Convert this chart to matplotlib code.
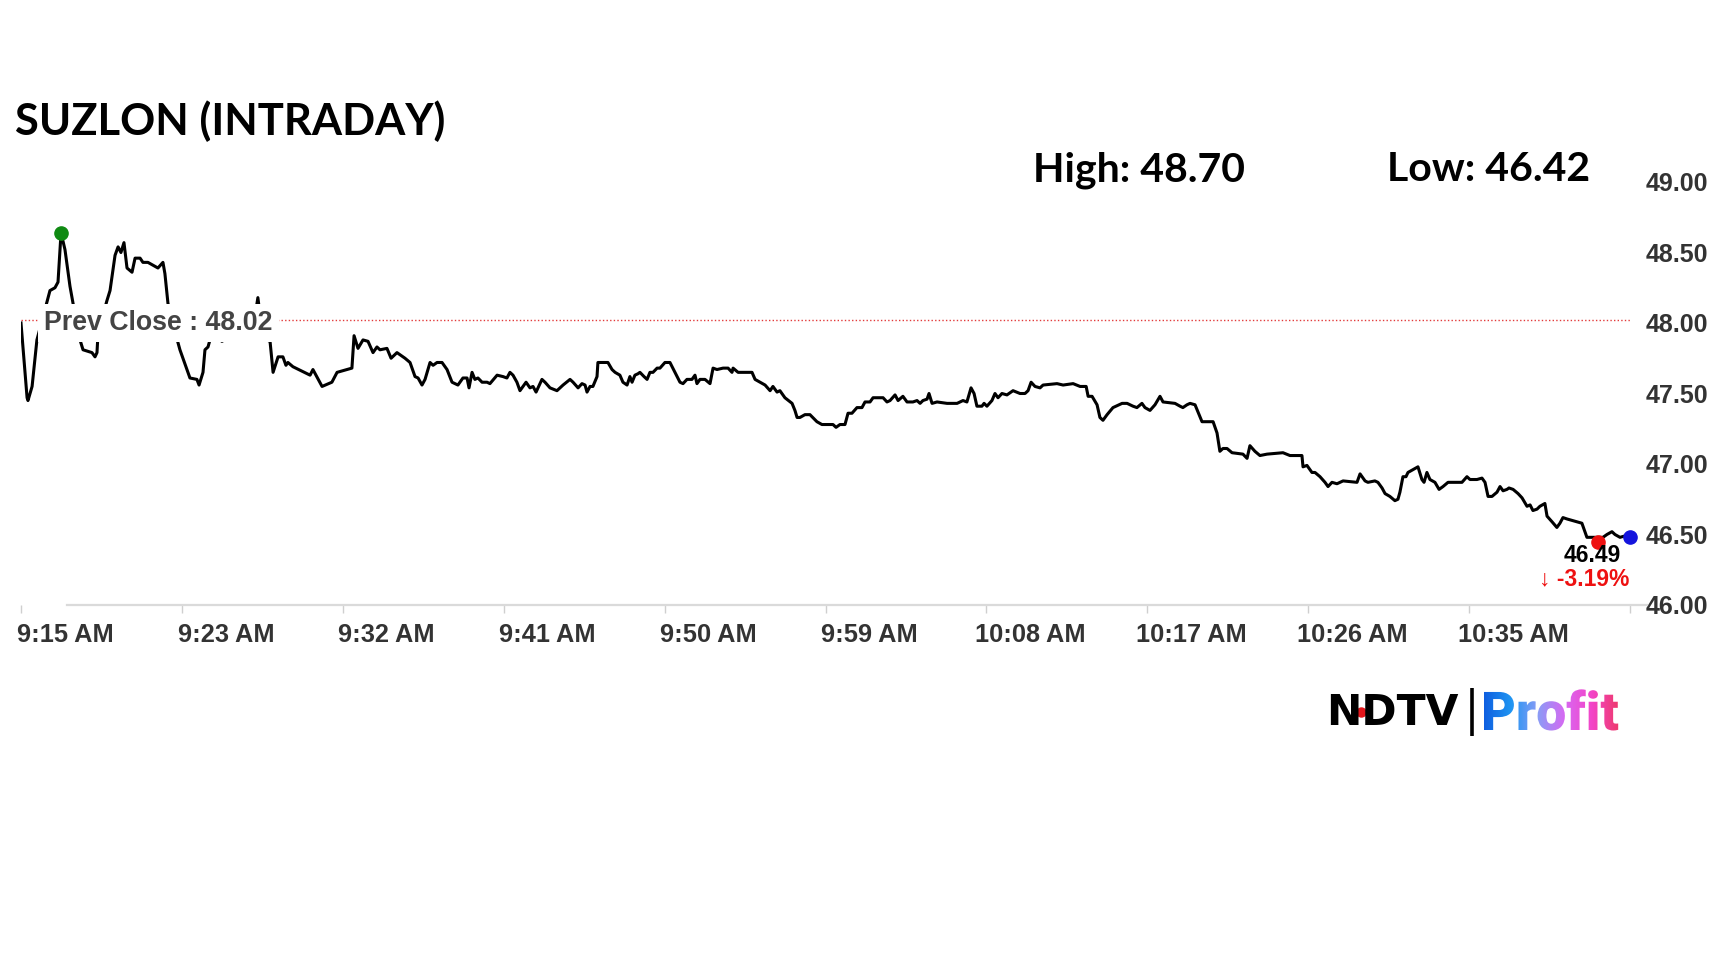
import matplotlib
matplotlib.use("Agg")
import matplotlib.pyplot as plt
import matplotlib.transforms as mtransforms
from matplotlib.textpath import TextPath
from matplotlib.font_manager import FontProperties
from matplotlib.patches import PathPatch
from matplotlib.colors import LinearSegmentedColormap
import numpy as np

# ---------------- data ----------------
minutes = [
    0.00, 0.34, 0.39, 0.62, 0.89, 1.62, 1.90, 2.07, 2.24, 2.46, 2.74, 2.91, 3.30, 3.47, 3.97, 4.14,
    4.25, 4.31, 4.59, 4.81, 4.98, 5.26, 5.43, 5.59, 5.76, 5.93, 6.21, 6.38, 6.66, 6.82, 7.10, 7.38,
    7.66, 7.94, 8.05, 8.22, 8.50, 8.89, 9.45, 9.84, 9.96, 10.18, 10.29, 10.46, 10.68, 11.24, 11.52,
    12.25, 12.81, 13.14, 13.25, 13.54, 13.93, 14.10, 14.38, 14.65, 14.82, 14.93, 15.21, 16.17, 16.33,
    16.84, 17.39, 17.68, 18.24, 18.51, 18.63, 18.85, 19.13, 19.41, 19.69, 19.91, 20.08, 20.47, 20.70,
    21.03, 21.48, 21.76, 22.04, 22.21, 22.43, 22.60, 22.88, 23.05, 23.27, 23.55, 23.83, 24.11, 24.28,
    24.44, 24.72, 24.95, 25.06, 25.23, 25.39, 25.56, 25.79, 26.07, 26.23, 26.63, 26.96, 27.18, 27.35,
    27.52, 27.74, 27.91, 28.25, 28.47, 28.64, 28.81, 29.14, 29.31, 29.59, 29.98, 30.32, 30.71, 30.88,
    31.16, 31.38, 31.55, 31.66, 31.83, 31.99, 32.22, 32.27, 32.50, 32.83, 33.06, 33.23, 33.50, 33.67,
    33.90, 34.06, 34.18, 34.34, 34.51, 34.62, 34.85, 35.02, 35.18, 35.35, 35.58, 35.74, 36.02, 36.30,
    36.58, 36.86, 37.03, 37.25, 37.53, 37.70, 37.81, 37.98, 38.26, 38.54, 38.71, 38.93, 39.27, 39.55,
    39.77, 39.83, 40.11, 40.39, 40.67, 40.89, 41.06, 41.34, 41.62, 41.90, 42.06, 42.29, 42.45, 42.73,
    43.13, 43.29, 43.41, 43.57, 43.85, 44.13, 44.52, 44.80, 45.42, 45.59, 45.81, 46.09, 46.26, 46.48,
    46.76, 47.04, 47.21, 47.49, 47.66, 48.22, 48.44, 48.61, 48.89, 49.06, 49.33, 49.56, 49.89, 50.12,
    50.29, 50.45, 50.68, 50.79, 50.96, 51.24, 51.80, 52.36, 52.69, 52.91, 53.14, 53.31, 53.47, 53.75,
    53.87, 54.03, 54.31, 54.48, 54.65, 54.87, 55.15, 55.49, 55.88, 56.16, 56.33, 56.50, 56.72, 57.00,
    57.17, 57.95, 58.29, 58.85, 59.24, 59.41, 59.58, 59.69, 59.91, 60.19, 60.35, 60.52, 60.75, 61.08,
    61.59, 61.87, 62.20, 62.42, 62.70, 62.87, 63.15, 63.43, 63.71, 63.88, 64.55, 64.83, 64.99, 65.22,
    65.39, 65.67, 66.06, 66.68, 66.90, 67.06, 67.23, 67.46, 67.74, 68.35, 68.58, 68.74, 69.02, 69.30,
    69.70, 70.59, 70.98, 71.65, 71.71, 71.93, 72.21, 72.38, 72.66, 72.94, 73.11, 73.33, 73.61, 73.95,
    74.73, 74.90, 75.18, 75.34, 75.73, 75.90, 76.13, 76.30, 76.57, 76.85, 77.02, 77.13, 77.30, 77.47,
    77.58, 77.86, 78.14, 78.36, 78.48, 78.64, 78.81, 79.09, 79.32, 79.54, 79.82, 80.60, 80.88, 81.05,
    81.44, 81.72, 81.89, 82.06, 82.28, 82.56, 82.73, 82.90, 83.12, 83.23, 83.46, 83.74, 83.96, 84.24,
    84.41, 84.57, 84.80, 84.96, 85.24, 85.36, 85.64, 85.91, 86.08, 86.25, 86.48, 86.76, 87.04, 87.31,
    87.48, 87.59, 88.21, 88.49, 88.71, 88.99, 89.16, 89.44, 89.72, 90.00,
]
prices = [
    48.00, 47.47, 47.45, 47.55, 47.88, 48.23, 48.25, 48.29, 48.64, 48.52, 48.26, 48.14, 47.88, 47.81, 47.79, 47.76,
    47.79, 47.93, 48.06, 48.16, 48.23, 48.48, 48.54, 48.50, 48.57, 48.39, 48.36, 48.46, 48.46, 48.43, 48.43, 48.41,
    48.39, 48.43, 48.35, 48.14, 47.99, 47.81, 47.61, 47.60, 47.56, 47.65, 47.81, 47.83, 47.93, 47.87, 47.89,
    47.91, 47.99, 48.09, 48.18, 47.89, 47.87, 47.65, 47.76, 47.76, 47.70, 47.72, 47.69, 47.63, 47.67,
    47.55, 47.58, 47.65, 47.67, 47.68, 47.91, 47.82, 47.88, 47.87, 47.79, 47.83, 47.81, 47.82, 47.75,
    47.79, 47.75, 47.72, 47.62, 47.61, 47.56, 47.60, 47.72, 47.70, 47.72, 47.72, 47.67, 47.58, 47.57,
    47.56, 47.61, 47.61, 47.54, 47.65, 47.60, 47.61, 47.58, 47.58, 47.57, 47.63, 47.62, 47.61, 47.65,
    47.63, 47.58, 47.52, 47.58, 47.54, 47.55, 47.51, 47.60, 47.58, 47.54, 47.52, 47.56, 47.60, 47.58,
    47.54, 47.57, 47.56, 47.51, 47.55, 47.55, 47.62, 47.72, 47.72, 47.72, 47.67, 47.65, 47.63, 47.58,
    47.56, 47.62, 47.58, 47.63, 47.64, 47.65, 47.62, 47.60, 47.65, 47.65, 47.68, 47.68, 47.72, 47.72,
    47.65, 47.58, 47.57, 47.60, 47.60, 47.63, 47.57, 47.60, 47.60, 47.57, 47.68, 47.67, 47.68, 47.68,
    47.65, 47.68, 47.65, 47.65, 47.65, 47.65, 47.60, 47.58, 47.56, 47.52, 47.55, 47.51, 47.52, 47.47,
    47.43, 47.38, 47.33, 47.33, 47.35, 47.35, 47.30, 47.28, 47.28, 47.26, 47.28, 47.28, 47.36, 47.36,
    47.40, 47.40, 47.44, 47.44, 47.47, 47.47, 47.44, 47.45, 47.49, 47.45, 47.48, 47.44, 47.44, 47.45,
    47.43, 47.45, 47.46, 47.50, 47.43, 47.44, 47.43, 47.43, 47.45, 47.44, 47.54, 47.50, 47.41, 47.41,
    47.43, 47.41, 47.45, 47.50, 47.47, 47.50, 47.49, 47.52, 47.50, 47.50, 47.52, 47.58, 47.55, 47.54,
    47.56, 47.57, 47.56, 47.57, 47.55, 47.55, 47.55, 47.48, 47.48, 47.42, 47.33, 47.31, 47.35, 47.40,
    47.43, 47.43, 47.41, 47.40, 47.43, 47.40, 47.38, 47.42, 47.48, 47.44, 47.43, 47.41, 47.40, 47.42,
    47.43, 47.42, 47.30, 47.30, 47.22, 47.09, 47.11, 47.11, 47.08, 47.07, 47.04, 47.13, 47.09, 47.06,
    47.07, 47.08, 47.06, 47.06, 46.98, 46.99, 46.94, 46.94, 46.91, 46.87, 46.84, 46.87, 46.86, 46.88,
    46.87, 46.93, 46.88, 46.87, 46.88, 46.87, 46.83, 46.79, 46.77, 46.74, 46.75, 46.80, 46.91, 46.91,
    46.94, 46.96, 46.98, 46.89, 46.87, 46.94, 46.89, 46.87, 46.82, 46.84, 46.87, 46.87, 46.91, 46.89,
    46.89, 46.90, 46.87, 46.77, 46.77, 46.80, 46.84, 46.81, 46.82, 46.83, 46.82, 46.79, 46.76, 46.70,
    46.71, 46.67, 46.68, 46.70, 46.72, 46.63, 46.59, 46.55, 46.58, 46.62, 46.61, 46.60, 46.59, 46.58,
    46.52, 46.48, 46.48, 46.48, 46.50, 46.52, 46.50, 46.48, 46.49, 46.48,
]

tick_minutes = [0, 9, 18, 27, 36, 45, 54, 63, 72, 81, 90]
tick_labels = ["9:15 AM", "9:23 AM", "9:32 AM", "9:41 AM", "9:50 AM", "9:59 AM",
               "10:08 AM", "10:17 AM", "10:26 AM", "10:35 AM", ""]
y_ticks = [46.0, 46.5, 47.0, 47.5, 48.0, 48.5, 49.0]

title = "SUZLON (INTRADAY)"
prev_close = 48.02
day_high = 48.70
day_low = 46.42
high_point = (2.24, 48.64)
low_point = (88.21, 46.45)
last_price = 46.49
change_pct = -3.19

# ---------------- figure ----------------
W, H = 1728, 972
fig = plt.figure(figsize=(W / 100, H / 100), dpi=100)
fig.patch.set_facecolor("white")

TICKFONT = "Liberation Sans"
ax = fig.add_axes([21 / W, 1 - 605 / H, (1630 - 21) / W, (605 - 182) / H])
ax.set_facecolor("white")
ax.plot(minutes, prices, color="black", lw=2.2, zorder=3, solid_joinstyle="round")
ax.set_xlim(0, 90)
ax.set_ylim(46, 49)

ax.axhline(prev_close, color="#e23a3a", lw=1.0, ls=(0, (1, 1.6)), zorder=2)
ax.text(1.29, prev_close, f"Prev Close : {prev_close:.2f}", fontsize=19.3, fontweight="bold",
        family=TICKFONT, color="#444444", ha="left", va="center_baseline", zorder=5,
        bbox=dict(facecolor="white", edgecolor="none", pad=4.5))

ax.plot(*high_point, "o", color="#0f8a12", ms=9.5, zorder=6, clip_on=False)
ax.plot(*low_point, "o", color="#ee1111", ms=9.5, zorder=6, clip_on=False)
ax.plot(minutes[-1], prices[-1], "o", color="#1414dd", ms=9.5, zorder=6, clip_on=False)

for s in ["top", "left", "right"]:
    ax.spines[s].set_visible(False)
ax.spines["bottom"].set_color("#dadada")
ax.spines["bottom"].set_linewidth(1.6)
ax.spines["bottom"].set_bounds(2.57, 90.95)

ax.yaxis.tick_right()
ax.set_yticks(y_ticks, [f"{v:.2f}" for v in y_ticks])
ax.tick_params(axis="y", length=0, pad=11.5, labelsize=18, labelcolor="#333333")
ax.set_xticks(tick_minutes, tick_labels)
ax.tick_params(axis="x", length=6, width=1, color="#cfcfcf", pad=7, labelsize=18.3,
               labelcolor="#333333")
for lab in ax.get_xticklabels() + ax.get_yticklabels():
    lab.set_fontfamily(TICKFONT)
    lab.set_fontweight("bold")
offset = mtransforms.ScaledTranslation(0.44, 0, fig.dpi_scale_trans)
for lab in ax.get_xticklabels():
    lab.set_transform(lab.get_transform() + offset)

# ---------------- overlay in pixel coordinates ----------------
ov = fig.add_axes([0, 0, 1, 1], zorder=10)
ov.set_axis_off()
ov.patch.set_alpha(0)


def Y(y):
    return H - y


ov.text(15, Y(121), title, fontsize=31.3, fontweight="bold", family="Lato",
        ha="left", va="center", color="black")
ov.text(1033, Y(170), f"High: {day_high:.2f}", fontsize=29.5, fontweight="bold", family="Lato",
        ha="left", va="center", color="black")
ov.text(1387, Y(170), f"Low: {day_low:.2f}", fontsize=29.5, fontweight="bold", family="Lato",
        ha="left", va="center", color="black")

ov.text(1592, Y(556), f"{last_price:.2f}", fontsize=16.5, fontweight="bold", family=TICKFONT,
        ha="center", va="center", color="black")
ov.text(1584, Y(579), f"\u2193 {change_pct:.2f}%", fontsize=16.5, fontweight="bold",
        family=[TICKFONT, "DejaVu Sans"], ha="center", va="center", color="#ee1111")

# logo
ov.text(1326, Y(713), "NDTV", fontsize=30.5, fontweight="bold", family="DejaVu Sans",
        ha="left", va="center", color="black")
ov.plot([1361], [Y(712)], "o", color="#e3161b", ms=6.5)
ov.plot([1472, 1472], [Y(688), Y(736)], color="black", lw=2.6, solid_capstyle="butt")

tp = TextPath((0, 0), "Profit", size=53.5, prop=FontProperties(family="Roboto", weight="heavy"))
ext = tp.get_extents()
tr = mtransforms.Affine2D().translate(1484 - ext.x0, Y(730))
path = tr.transform_path(tp)
patch = PathPatch(path, facecolor="none", edgecolor="none")
ov.add_patch(patch)
pe = path.get_extents()
grad = np.linspace(0, 1, 256).reshape(1, -1)
cmap = LinearSegmentedColormap.from_list(
    "profit", ["#0f5fe0", "#1f95f2", "#8a9cf6", "#d868f2", "#f345c8", "#ee3a6c"])
im = ov.imshow(grad, extent=[pe.x0, pe.x1, pe.y0, pe.y1], cmap=cmap, aspect="auto",
               origin="lower", zorder=11)
im.set_clip_path(patch)

ov.set_xlim(0, W)
ov.set_ylim(0, H)

fig.savefig("out.png", dpi=100, facecolor="white")
